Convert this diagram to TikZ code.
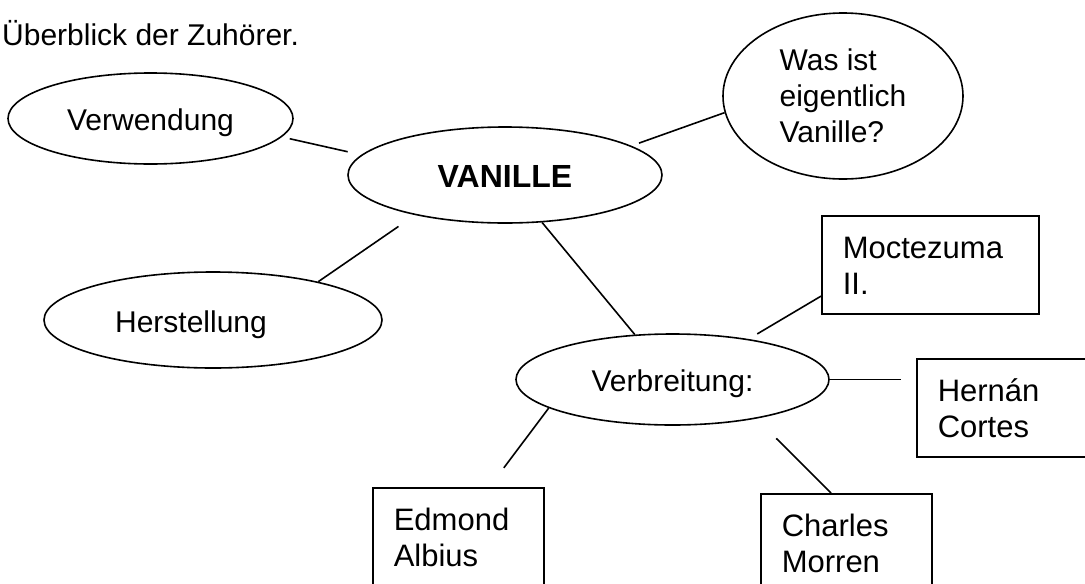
\documentclass[tikz,border=0pt]{standalone}
\usepackage{fontspec}
\setmainfont{Liberation Sans}
\usepackage{tikz}
\usetikzlibrary{shapes.geometric}

\begin{document}
\begin{tikzpicture}[
        x=1pt, y=-1pt,
        bubble/.style={
            ellipse, draw, line width=1.6pt,
            inner sep=0pt,
            font=\fontsize{30}{36}\selectfont
        },
        oneline/.style={bubble, text height=24pt, text depth=0pt},
        namebox/.style={
            rectangle, draw, line width=1.6pt,
            anchor=north west, align=left,
            inner xsep=21pt, inner ysep=19pt,
            minimum height=98pt,
            font=\fontsize{31}{36}\selectfont
        },
        link/.style={line width=1.6pt}
    ]
        \useasboundingbox (0,0) rectangle (1085,584);
        \clip (0,0) rectangle (1085,584);

        \node[anchor=base west, inner sep=0pt, font=\fontsize{30}{36}\selectfont]
            (ueber) at (2,45) {Überblick der Zuhörer.};

        % Ellipsen
        \node[oneline, minimum width=285pt, minimum height=91pt] (verw) at (150.5,118.5) {Verwendung};
        \node[oneline, minimum width=314pt, minimum height=96pt,
              font=\fontsize{32}{36}\selectfont\bfseries] (van) at (505,175) {VANILLE};
        \node[bubble, align=left, minimum width=240pt, minimum height=166pt] (was) at (843,96)
            {Was ist\\eigentlich\\Vanille?};
        \node[oneline, minimum width=338pt, minimum height=96pt] (herst) at (213,320)
            {Herstellung\hspace*{44pt}};
        \node[oneline, minimum width=313pt, minimum height=91pt] (verb) at (672.5,379.5)
            {Verbreitung:};

        % Kaesten
        \node[namebox, text width=175pt] (moct) at (821,215)
            {\rule{0pt}{23pt}Moctezuma\\II.};
        \node[namebox, text width=150pt] (hern) at (916,358)
            {\rule{0pt}{23pt}Hernán\\Cortes};
        \node[namebox, text width=129pt] (charl) at (760,493)
            {\rule{0pt}{23pt}Charles\\Morren};
        \node[namebox, text width=129pt] (edm) at (372,487)
            {\rule{0pt}{23pt}Edmond\\Albius};

        \draw[link, shorten <=8pt, shorten >=14pt] (verw.-8) -- (van.172);
        \draw[link, shorten <=8pt] (van.13) -- (was.188);
        \draw[link, shorten <=20pt] (van.204) -- (herst.20);
        \draw[link] (van.-52) -- (verb.130);
        \draw[link, shorten <=10pt] (verb.28) -- (moct.196);
        \draw[link, shorten >=15pt] (verb.east) -- (verb.east -| hern.west);
        \draw[link, shorten <=28pt] (verb.-25) -- (charl.107.6);
        \draw[link, shorten >=24pt] (verb.193) -- (edm.58);
    \end{tikzpicture}
\end{document}
